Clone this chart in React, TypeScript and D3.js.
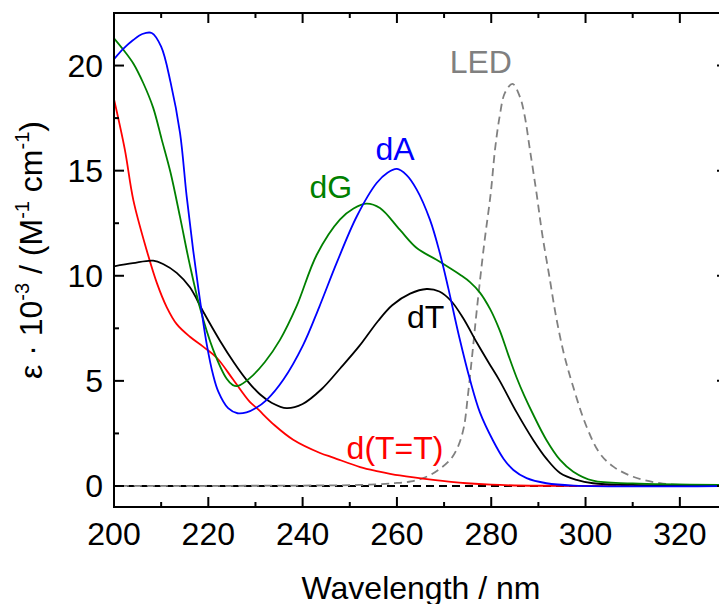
import React from "react";
import * as d3 from "d3";

// Molar absorption spectra of the nucleosides (ε · 10^-3, M^-1 cm^-1) vs wavelength (nm)
const dA: [number, number][] = [
  [200, 20.3], [202, 20.8], [204, 21.2], [206, 21.5], [208, 21.55], [210, 20.9], [212, 19.2],
  [214, 16.8], [215.4, 13.8], [216.8, 11.2], [218.2, 8.9], [219.7, 6.7], [221, 5.3], [222.1, 4.5],
  [224.2, 3.7], [226.2, 3.46], [228.1, 3.5], [230, 3.7], [232.4, 4.1], [235.9, 5.05], [240.1, 6.7],
  [243.5, 8.5], [247.2, 10.6], [251.5, 12.83], [255.7, 14.41], [258, 14.9], [260, 15.08], [262, 14.8],
  [264.2, 14.1], [267, 12.67], [269.1, 11.08], [270.9, 9.4], [273.2, 7.1], [275.5, 5.05],
  [277.6, 3.5], [280.4, 2.15], [282.6, 1.3], [284.7, 0.76], [287.5, 0.37], [291.7, 0.13],
  [297.4, 0.02], [330, 0.0],
];

const dG: [number, number][] = [
  [200, 21.3], [202, 20.75], [204.1, 20.1], [206.2, 19.17], [208.3, 18.0], [210.1, 16.5],
  [212, 14.9], [214, 12.8], [216, 10.6], [218.2, 8.5], [221, 6.5], [223.9, 5.1],
  [225.2, 4.8], [226.3, 4.76], [228.8, 5.13], [232, 5.9], [235.2, 6.95], [238.7, 8.54], [243, 11.0],
  [247.9, 12.67], [250.8, 13.2], [253.6, 13.43], [256.4, 13.22], [260.6, 12.19], [264.2, 11.32],
  [268.4, 10.76], [271.2, 10.37], [273.4, 10.05], [275.5, 9.7], [277.6, 9.2], [279.8, 8.4],
  [281.8, 7.4], [283.6, 6.25], [285.4, 5.15], [287, 4.3], [288.9, 3.4], [291.7, 2.19], [294.6, 1.24],
  [297.4, 0.68], [301.6, 0.25], [310, 0.12], [330, 0.05],
];

const dT: [number, number][] = [
  [200, 10.45], [204, 10.6], [208.3, 10.72], [210.5, 10.55], [213.3, 10.14], [216.1, 9.45],
  [218.9, 8.3], [222.5, 6.9], [225.5, 5.85], [228.1, 5.05], [231, 4.35], [233.5, 3.95],
  [236.6, 3.7], [240, 3.9], [244, 4.6], [248, 5.6], [252, 6.65], [256, 7.85], [259, 8.6],
  [262.8, 9.15], [266.3, 9.37], [269, 9.25], [271.5, 8.8], [274, 8.0], [277, 6.8], [279.5, 5.85],
  [281.8, 5.0], [285.4, 3.5], [288.9, 2.19], [291.7, 1.3], [294.6, 0.62], [298.1, 0.29],
  [301.6, 0.13], [310, 0.05], [330, 0.03],
];

const dTT: [number, number][] = [
  [200, 18.4], [202.3, 16.0], [204.1, 13.6], [206.9, 11.24], [209.1, 9.65], [211.2, 8.5],
  [213.3, 7.7], [216.1, 7.1], [218.9, 6.63], [221.8, 6.1], [225.3, 5.05], [228.8, 4.0],
  [230.3, 3.7], [234, 2.9], [238, 2.2], [243.7, 1.57], [246.5, 1.35], [252.2, 0.9], [256, 0.7],
  [260.6, 0.5], [267.7, 0.29], [274.8, 0.13], [280, 0.06], [290, 0.01], [330, 0.0],
];

// LED emission profile, scaled onto the same axis
const led: [number, number][] = [
  [200, 0.0], [240, 0.02], [252.2, 0.05], [259.2, 0.13], [263, 0.22], [266.3, 0.44],
  [269, 0.8], [271.5, 1.3], [273, 1.9], [274.2, 2.8], [275, 4.2], [276, 6.3], [277, 8.5],
  [278.5, 11.5], [279.9, 13.94], [280.8, 16.0], [281.8, 17.6], [282.9, 18.7], [284.5, 19.13],
  [286.1, 18.5], [287.1, 17.6], [288.2, 16.0], [289.6, 13.94], [290.8, 12.0], [292.3, 10.0],
  [293.8, 8.0], [295.4, 6.3], [297.2, 4.85], [300.2, 2.83], [303, 1.56], [305.9, 0.92],
  [310.1, 0.44], [315.8, 0.13], [322.8, 0.03], [330, 0.0],
];

const xMajor = [200, 220, 240, 260, 280, 300, 320];
const xMinor = [210, 230, 250, 270, 290, 310, 330];
const yMajor = [0, 5, 10, 15, 20];
const yMinor = [2.5, 7.5, 12.5, 17.5];

const labels = [
  { text: "dA", x: 259.6, y: 15.5, color: "#0000ff" },
  { text: "dG", x: 246, y: 13.7, color: "#008000" },
  { text: "dT", x: 266.1, y: 7.5, color: "#000000" },
  { text: "d(T=T)", x: 259.6, y: 1.28, color: "#ff0000" },
  { text: "LED", x: 277.8, y: 19.65, color: "#808080" },
];

const W = 719;
const H = 604;
const left = 114;
const right = 727;
const top = 13;
const bottom = 507;
const FONT = "'Liberation Sans', Arial, sans-serif";

export default function App() {
  const x = d3.scaleLinear().domain([200, 330]).range([left, right]);
  const y = d3.scaleLinear().domain([-1, 22.5]).range([bottom, top]);
  const line = d3
    .line<[number, number]>()
    .x((d) => x(d[0]))
    .y((d) => y(d[1]))
    .curve(d3.curveCatmullRom.alpha(0.5));

  const series = [
    { data: dTT, color: "#ff0000" },
    { data: dT, color: "#000000" },
    { data: dG, color: "#008000" },
    { data: dA, color: "#0000ff" },
  ];

  return (
    <svg
      width={W}
      height={H}
      style={{ position: "absolute", left: 0, top: 0, background: "#fff" }}
      fontFamily={FONT}
    >
      <defs>
        <clipPath id="plot">
          <rect x={left} y={top} width={right - left} height={bottom - top} />
        </clipPath>
      </defs>

      <g clipPath="url(#plot)">
        {/* zero baseline */}
        <line
          x1={x(200)}
          x2={x(330)}
          y1={y(0)}
          y2={y(0)}
          stroke="#000"
          strokeWidth={1.8}
          strokeDasharray="8,5"
        />
        <path
          d={line(led) || ""}
          fill="none"
          stroke="#808080"
          strokeWidth={1.8}
          strokeDasharray="8,5"
          strokeDashoffset={6}
        />
        {series.map((s, i) => (
          <path key={i} d={line(s.data) || ""} fill="none" stroke={s.color} strokeWidth={1.8} />
        ))}
      </g>

      {/* frame */}
      <rect
        x={left}
        y={top}
        width={right - left}
        height={bottom - top}
        fill="none"
        stroke="#000"
        strokeWidth={2}
      />

      {/* x ticks, bottom and top, pointing inward */}
      {xMajor.map((v) => (
        <g key={"xM" + v}>
          <line x1={x(v)} x2={x(v)} y1={bottom} y2={bottom - 10} stroke="#000" strokeWidth={2} />
          <line x1={x(v)} x2={x(v)} y1={top} y2={top + 10} stroke="#000" strokeWidth={2} />
          <text x={x(v)} y={545} textAnchor="middle" fontSize={32} fill="#000">
            {v}
          </text>
        </g>
      ))}
      {xMinor.map((v) => (
        <g key={"xm" + v}>
          <line x1={x(v)} x2={x(v)} y1={bottom} y2={bottom - 5} stroke="#000" strokeWidth={2} />
          <line x1={x(v)} x2={x(v)} y1={top} y2={top + 5} stroke="#000" strokeWidth={2} />
        </g>
      ))}

      {/* y ticks, left and right, pointing inward */}
      {yMajor.map((v) => (
        <g key={"yM" + v}>
          <line x1={left} x2={left + 10} y1={y(v)} y2={y(v)} stroke="#000" strokeWidth={2} />
          <line x1={right} x2={right - 10} y1={y(v)} y2={y(v)} stroke="#000" strokeWidth={2} />
          <text x={103} y={y(v) + 11.5} textAnchor="end" fontSize={32} fill="#000">
            {v}
          </text>
        </g>
      ))}
      {yMinor.map((v) => (
        <g key={"ym" + v}>
          <line x1={left} x2={left + 5} y1={y(v)} y2={y(v)} stroke="#000" strokeWidth={2} />
          <line x1={right} x2={right - 5} y1={y(v)} y2={y(v)} stroke="#000" strokeWidth={2} />
        </g>
      ))}

      {/* series labels */}
      {labels.map((l) => (
        <text
          key={l.text}
          x={x(l.x)}
          y={y(l.y)}
          textAnchor="middle"
          fontSize={32}
          fill={l.color}
        >
          {l.text}
        </text>
      ))}

      {/* axis titles */}
      <text x={421} y={599} textAnchor="middle" fontSize={32} fill="#000">
        Wavelength / nm
      </text>
      <text
        transform="translate(42,250) rotate(-90)"
        textAnchor="middle"
        fontSize={32}
        fill="#000"
      >
        ε · 10<tspan fontSize={20} dy={-13}>-3</tspan>
        <tspan dy={13}> / (M</tspan>
        <tspan fontSize={20} dy={-13}>-1</tspan>
        <tspan dy={13}> cm</tspan>
        <tspan fontSize={20} dy={-13}>-1</tspan>
        <tspan dy={13}>)</tspan>
      </text>
    </svg>
  );
}
